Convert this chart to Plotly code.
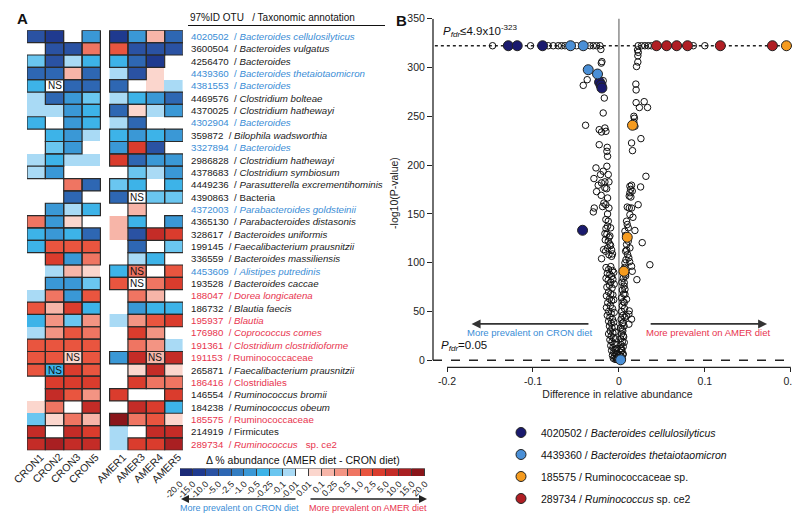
import numpy as np
import plotly.graph_objects as go

FONT = "Liberation Sans, Arial, sans-serif"

# ---------------- Panel A data ----------------
cron_samples = ["CRON1", "CRON2", "CRON3", "CRON5"]
amer_samples = ["AMER1", "AMER3", "AMER4", "AMER5"]

otu_ids = ["4020502", "3600504", "4256470", "4439360", "4381553", "4469576", "4370025",
           "4302904", "359872", "3327894", "2986828", "4378683", "4449236", "4390863",
           "4372003", "4365130", "328617", "199145", "336559", "4453609", "193528",
           "188047", "186732", "195937", "176980", "191361", "191153", "265871",
           "186416", "146554", "184238", "185575", "214919", "289734"]

taxa = ["<i>Bacteroides cellulosilyticus</i>", "<i>Bacteroides vulgatus</i>", "<i>Bacteroides</i>",
        "<i>Bacteroides thetaiotaomicron</i>", "<i>Bacteroides</i>", "<i>Clostridium bolteae</i>",
        "<i>Clostridium hathewayi</i>", "<i>Bacteroides</i>", "<i>Bilophila wadsworthia</i>",
        "<i>Bacteroides</i>", "<i>Clostridium hathewayi</i>", "<i>Clostridium symbiosum</i>",
        "<i>Parasutterella excrementihominis</i>", "Bacteria", "<i>Parabacteroides goldsteinii</i>",
        "<i>Parabacteroides distasonis</i>", "<i>Bacteroides uniformis</i>",
        "<i>Faecalibacterium prausnitzii</i>", "<i>Bacteroides massiliensis</i>",
        "<i>Alistipes putredinis</i>", "<i>Bacteroides caccae</i>", "<i>Dorea longicatena</i>",
        "<i>Blautia faecis</i>", "<i>Blautia</i>", "<i>Coprococcus comes</i>",
        "<i>Clostridium clostridioforme</i>", "Ruminococcaceae", "<i>Faecalibacterium prausnitzii</i>",
        "Clostridiales", "<i>Ruminococcus bromii</i>", "<i>Ruminococcus obeum</i>",
        "Ruminococcaceae", "Firmicutes", "<i>Ruminococcus</i>   sp. ce2"]

# label group: b = blue, k = black, r = red
label_group = "bkkbbkkbkbkkkkbkkkkbkrkrrrrkrkkrkr"

# Delta % abundance (AMER diet - CRON diet), per OTU row
cron_delta = [
    [-7, -12, 0, -0.7], [0, -7, -7, 0.7], [-0.15, -7, -0.05, -0.35], [-3.5, -3.5, 0.15, -3.5],
    [-0.35, 0, -3.5, -3.5], [-0.05, -3.5, -0.7, -0.15], [-0.05, -0.05, -0.7, -0.35],
    [-0.35, 0, -0.7, -0.35], [0, -0.35, -0.7, -0.05], [0, -0.15, -0.7, 0],
    [-0.05, -0.35, -0.05, -0.05], [-0.05, -0.7, 0, 0], [0, 0, 0.7, -3.5], [0, 0, -3.5, 0],
    [0, -0.7, -0.05, -0.35], [0.7, -0.7, 0.05, 0], [-0.35, -0.7, -0.35, -3.5],
    [-0.35, 1.5, 1.5, 1.5], [0, 3.5, -0.7, 0.7], [0, -0.05, 0.15, 0.05], [0, -0.7, -0.7, -0.15],
    [-0.05, 0.7, -0.7, 1.5], [1.5, 0.15, 3.5, -0.35], [-0.35, 0.35, -0.15, 0.35],
    [-0.05, 0.35, 1.5, 0.7], [1.5, 1.5, 1.5, 1.5], [1.5, 1.5, 0.05, 1.5], [1.5, -0.35, 3.5, 1.5],
    [0, 3.5, 3.5, 3.5], [0, 7, 1.5, 0.35], [0.05, 0.7, 0, 7], [-0.15, 0.05, 0.7, 0.15],
    [7, 0, 7, 3.5], [7, 12, 7, 7]]

amer_delta = [
    [-12, -0.7, 0.15, -3.5], [1.5, -7, -7, -7], [-0.35, -3.5, -12, 0], [-0.05, -7, 0.05, 0],
    [-3.5, 0, 0.05, -0.05], [-0.05, -0.35, -0.7, -3.5], [-3.5, 0.05, -0.05, -0.7],
    [-0.05, -3.5, 0, 0], [-0.35, -0.7, -0.35, -0.7], [-0.7, 3.5, -7, 0],
    [3.5, -3.5, -0.7, -0.7], [0, -0.15, -0.05, -0.7], [-0.15, -0.35, 0, -0.35],
    [-3.5, 0, -0.15, -0.15], [0, 0.15, 0, 0], [0.15, -0.35, 0, -0.7], [0.15, -7, 7, 3.5],
    [0, -3.5, 0, -0.15], [0, -0.05, -0.35, 0], [-0.35, 0.7, 0, 1.5], [1.5, 0, 0.7, 3.5],
    [0, 0.7, 0.15, 0], [0, -0.7, -0.35, -0.35], [-0.05, 0.35, 1.5, 3.5], [0, 3.5, 0.35, 0],
    [0, 0.7, 0.35, -0.05], [-0.7, 7, 0.15, 7], [0, 0.05, 7, 0.05], [0, 3.5, 0.7, 0.7],
    [3.5, 0, 0, 3.5], [0, 7, 3.5, -0.35], [17, 0.7, 1.5, 0.05], [-0.05, 0, 7, 7],
    [-0.05, 3.5, 3.5, 12]]

# significance per cell: 1 = significant, 0 = not, N = tested but NS  (CRON | AMER)
significance = [
    "1101 1111", "0111 1111", "1111 1110", "1111 0100", "1N11 1000", "0111 0111",
    "0011 1101", "1011 0100", "0110 1111", "0110 1110", "0100 1111", "1100 0101",
    "0011 1101", "0010 1N11", "0111 0100", "1110 0101", "1111 0111", "1111 0101",
    "0111 0110", "0010 1N11", "0111 1N11", "0111 0110", "1111 0111", "0111 0111",
    "0111 0110", "1111 0110", "11N1 11N1", "1N11 0110", "0111 0111", "0111 1001",
    "0101 0111", "0111 1110", "1011 0011", "1111 0111"]

bin_edges = [-20, -15, -10, -5, -2.5, -1, -0.5, -0.25, -0.1, -0.01,
             0.01, 0.1, 0.25, 0.5, 1, 2.5, 5, 10, 15, 20]
bin_labels = ["-20.0", "-15.0", "-10.0", "-5.0", "-2.5", "-1.0", "-0.5", "-0.25", "-0.1", "-0.01",
              "0.01", "0.1", "0.25", "0.5", "1.0", "2.5", "5.0", "10.0", "15.0", "20.0"]
bin_colors = ["#1b2a78", "#1f3a8f", "#2a52a3", "#2e67b3", "#327dc2", "#3a98d6", "#3db3e8",
              "#6ac6f0", "#a9daf5", "#ffffff", "#fbd6cd", "#f7b5a8", "#f39483", "#ef7562",
              "#e9553f", "#da3c2d", "#c42c27", "#a91f22", "#8a151a"]

# ---------------- Panel B data ----------------
open_x = [
    # top line
    -0.147, -0.1028, -0.0822, -0.0764, -0.0706, -0.0667, -0.0628, -0.0493, -0.0337, -0.0299,
    -0.026, -0.0221, 0.0224, 0.0263, 0.0302, 0.0341, 0.0379, 0.0866, 0.1,
    # upper left
    -0.021, -0.0198, -0.0205, -0.0369, -0.0415, -0.0183, -0.017, -0.0183,
    # upper right
    0.0217, 0.0225, 0.022, 0.022, 0.0205, 0.0197, 0.02, 0.02, 0.0238, 0.0294, 0.0333, 0.0174, 0.018,
    # mid left
    -0.0388, -0.0229, -0.0202, -0.0163, -0.0151, -0.0229, -0.0136, -0.014, -0.0132, -0.014,
    -0.0267, -0.0124, -0.0291, -0.0214, -0.0183, -0.0202, -0.0241, -0.0163, -0.0116, -0.0163,
    -0.0143, -0.026, -0.0132, -0.0206, -0.0175, -0.0152, -0.0287, -0.0298, -0.019, -0.0116,
    -0.0132, -0.0152, -0.0124, -0.0132, -0.0151, -0.0097, -0.0163, -0.014, -0.0105, -0.0159,
    -0.0124, -0.0097, -0.0178, -0.0155, -0.0132, -0.0202, -0.0116, -0.0085,
    -0.0105, -0.0085, -0.0075, -0.0115,
    # mid right
    0.0174, 0.0186, 0.0147, 0.0256, 0.0158, 0.0314, 0.0252, 0.0128, 0.0147, 0.0136, 0.0155,
    0.0128, 0.012, 0.0139, 0.0224, 0.0097, 0.012, 0.0147, 0.0128, 0.0163, 0.0089, 0.0097,
    0.0109, 0.007, 0.0186, 0.0109, 0.0089, 0.0128, 0.0078, 0.0101, 0.0271, 0.036, 0.0147,
    0.0155, 0.0209, 0.007, 0.0078, 0.0062, 0.007, 0.007, 0.0089, 0.0062, 0.012, 0.0116,
    0.0089, 0.0147, 0.0116, 0.005, 0.0039, 0.005, 0.0062, 0.0031, 0.005,
    0.0078, 0.0105, 0.009, 0.0115, 0.0082, 0.0125,
    # dense column left of zero
    -0.015, -0.012, -0.0095, -0.0075, -0.0135, -0.0105, -0.0085, -0.006,
    -0.015, -0.0125, -0.0095, -0.007, -0.011, -0.014, -0.008, -0.0055,
    -0.012, -0.0095, -0.0145, -0.007, -0.011, -0.0085, -0.013, -0.006,
    -0.01, -0.0145, -0.0075, -0.012, -0.009, -0.0055, -0.0135, -0.0105,
    -0.0075, -0.012, -0.009, -0.006, -0.011, -0.008, -0.005, -0.01,
    -0.007, -0.012, -0.0045, -0.009, -0.0065, -0.0105, -0.004, -0.008,
    -0.0055, -0.0095, -0.0035, -0.007, -0.0045, -0.0085, -0.0025, -0.006,
    -0.0035, -0.0075, -0.002, -0.005, -0.003, -0.0065, -0.0015, -0.0045,
    -0.0025, -0.001,
    # dense column right of zero
    0.0065, 0.0045, 0.0075, 0.005, 0.0035, 0.006, 0.004, 0.0055,
    0.003, 0.005, 0.004, 0.0065, 0.003, 0.0045, 0.007, 0.0025,
    0.004, 0.006, 0.002, 0.0045, 0.003, 0.0055, 0.002, 0.004,
    0.0025, 0.005, 0.0015, 0.0035, 0.002, 0.0045, 0.001, 0.003,
    0.0015, 0.004, 0.0025]

open_y = [
    322.3, 322.3, 322.3, 322.3, 322.3, 322.3, 322.3, 322.3, 322.3, 322.3,
    322.3, 322.3, 322.3, 322.3, 322.3, 322.3, 322.3, 322.3, 322.3,
    318.5, 306, 304.5, 287.5, 281.7, 286.5, 268.7, 253.4,
    318, 315.5, 312, 305.6, 301, 283, 277, 264, 259, 265, 259, 250, 248,
    240.8, 236.3, 233.9, 238, 234.6, 220.9, 218.2, 214.1, 209, 198.8,
    197.1, 190.3, 186.2, 190.3, 193.7, 181.8, 179.4, 182.8, 182.8, 176.5,
    175.8, 172.8, 166.3, 169, 161.1, 159.4, 156, 152, 157.5, 156,
    149.9, 144.2, 142.5, 137.4, 135, 135.7, 129.8, 129.2, 127.4, 123.3,
    122, 117.5, 113.4, 111.7, 115.1, 104.1, 108.2, 106.5,
    119, 113, 109, 126,
    243.9, 239.8, 222.7, 227.1, 214.8, 188.5, 177.6, 178.3, 179.4, 175.1, 173.4,
    171.7, 168.3, 167.3, 159.4, 157, 156, 156, 149.2, 146.5, 142.5, 139.1,
    135.7, 132.3, 133, 122, 118.6, 115.1, 111.7, 108.3, 120.5, 97.9, 96.3,
    91.2, 82.6, 99.8, 86.3, 79.5, 72.7, 67.6, 62.5, 59.1, 50.6, 47.2,
    45.5, 42.1, 37, 38.7, 31.9, 25.1, 18.3, 11.5, 6.4,
    128, 125, 113, 105, 103, 101,
    95, 93, 96, 92, 89, 88, 86, 90,
    84, 82, 80, 83, 77, 75, 74, 78,
    70, 68, 66, 67, 63, 61, 59, 62,
    56, 54, 53, 50, 48, 49, 46, 44,
    42, 40, 38, 39, 35, 33, 34, 30,
    28, 27, 29, 25, 23, 21, 22, 19,
    17, 15, 16, 13, 11, 10, 12, 8,
    7, 5, 6, 4, 2.5, 2, 3, 1,
    0.8, 1.5,
    95, 90, 88, 84, 80, 76, 72, 68,
    64, 60, 56, 53, 50, 46, 44, 42,
    38, 35, 33, 30, 27, 24, 22, 19,
    16, 14, 12, 10, 8, 6, 5, 3.5,
    2, 1.5, 0.7]

highlight_names = ["4020502 / <i>Bacteroides cellulosilyticus</i>",
                   "4439360 / <i>Bacteroides thetaiotaomicron</i>",
                   "185575 / Ruminococcaceae sp.",
                   "289734 / <i>Ruminococcus</i> sp. ce2"]
highlight_colors = ["#1a1a6e", "#4a8fd6", "#f59b1f", "#b01e24"]
highlight_x = [
    [-0.1287, -0.1183, -0.0888, -0.0225, -0.0208, -0.0198, -0.0423],
    [-0.0563, -0.0415, -0.0357, -0.0249, 0.002],
    [0.1949, 0.0158, 0.0097, 0.0058],
    [0.0437, 0.0555, 0.0672, 0.0798, 0.118, 0.1786]]
highlight_y = [
    [322.3, 322.3, 322.3, 285, 282, 279, 133.2],
    [322.3, 322.3, 297.7, 293.3, 0.5],
    [322.3, 240.8, 126, 91.2],
    [322.3, 322.3, 322.3, 322.3, 322.3, 322.3]]

label_colors = {"b": "#3a8dd6", "k": "#1a1a1a", "r": "#e8344e"}

# ---------------- helpers ----------------
W, H = 800, 513
def px(x):
    return x / W
def py(y):
    return 1 - y / H

def note(x, y, text, size, color="#111", xanchor="center", **kw):
    d = dict(x=x, y=y, text=text, showarrow=False, xanchor=xanchor, yanchor="middle",
             font=dict(size=size, color=color, family=FONT))
    d.setdefault("xref", "paper")
    d.setdefault("yref", "paper")
    d.update(kw)
    return d

n_rows = len(otu_ids)
bins = np.array(bin_edges[1:-1])
cron_idx = np.digitize(np.array(cron_delta, dtype=float), bins)
amer_idx = np.digitize(np.array(amer_delta, dtype=float), bins)

nb = len(bin_colors)
colorscale = []
for k, c in enumerate(bin_colors):
    colorscale.append([k / nb, c])
    colorscale.append([(k + 1) / nb, c])

cron_pos = [0, 1, 2, 3]
amer_pos = [4.5, 5.5, 6.5, 7.5]

fig = go.Figure()

fig.add_trace(go.Heatmap(z=cron_idx, x=cron_pos, y=list(range(n_rows)), colorscale=colorscale,
                         zmin=-0.5, zmax=nb - 0.5, showscale=False, hoverinfo="skip",
                         xaxis="x", yaxis="y"))
fig.add_trace(go.Heatmap(z=amer_idx, x=amer_pos, y=list(range(n_rows)), colorscale=colorscale,
                         zmin=-0.5, zmax=nb - 0.5, showscale=False, hoverinfo="skip",
                         xaxis="x", yaxis="y"))

# color key heatmap
fig.add_trace(go.Heatmap(z=[list(range(nb))], x=list(range(nb)), y=[0], colorscale=colorscale,
                         zmin=-0.5, zmax=nb - 0.5, showscale=False, hoverinfo="skip", xgap=1,
                         xaxis="x3", yaxis="y3"))

# volcano
fig.add_trace(go.Scatter(x=open_x, y=open_y, mode="markers", xaxis="x2", yaxis="y2",
                         marker=dict(symbol="circle-open", size=6.5, color="#111111",
                                     line=dict(width=1, color="#111111")),
                         showlegend=False, hoverinfo="skip"))
for i in range(len(highlight_names)):
    fig.add_trace(go.Scatter(x=highlight_x[i], y=highlight_y[i], mode="markers",
                             xaxis="x2", yaxis="y2", name=highlight_names[i],
                             legendgroup="g%d" % i,
                             marker=dict(size=10, color=highlight_colors[i],
                                         line=dict(width=1, color="#222222"))))

shapes = []
annotations = []

# cell borders & NS marks
positions = cron_pos + amer_pos
for r in range(n_rows):
    s = significance[r].replace(" ", "")
    for c in range(8):
        if s[c] in "1N":
            shapes.append(dict(type="rect", xref="x", yref="y",
                               x0=positions[c] - 0.5, x1=positions[c] + 0.5,
                               y0=r - 0.5, y1=r + 0.5,
                               line=dict(color="#2a2a2a", width=1.2)))
        if s[c] == "N":
            annotations.append(note(positions[c], r, "NS", 10, xref="x", yref="y"))

# column labels (rotated)
for c, name in enumerate(cron_samples + amer_samples):
    annotations.append(note(positions[c], py(460), name, 10.5, color="#222",
                            xref="x", textangle=-45, xshift=-7.5))

# row labels
for r in range(n_rows):
    annotations.append(note(px(181), r, "%s  / %s" % (otu_ids[r], taxa[r]), 9.7,
                            color=label_colors[label_group[r]], xanchor="left", yref="y"))

annotations.append(note(px(180), py(9), "97%ID OTU   / Taxonomic annotation", 10, xanchor="left"))
shapes.append(dict(type="line", xref="paper", yref="paper", x0=px(180), x1=px(377),
                   y0=py(17.5), y1=py(17.5), line=dict(color="#111", width=1)))

annotations.append(note(px(7), py(11), "<b>A</b>", 15, xanchor="left"))
annotations.append(note(px(386), py(12), "<b>B</b>", 15, xanchor="left"))

# color key extras
shapes.append(dict(type="rect", xref="x3", yref="y3", x0=-0.5, x1=nb - 0.5, y0=-0.5, y1=0.5,
                   fillcolor="#3a3a3a", line=dict(color="#3a3a3a", width=1), layer="below"))
annotations.append(note(px(295), py(452), "Δ % abundance (AMER diet - CRON diet)", 10.5))
annotations.append(dict(x=px(173), y=py(491), xref="paper", yref="paper", ax=116, ay=0,
                        text="", showarrow=True, arrowhead=2, arrowsize=1, arrowwidth=1.6,
                        arrowcolor="#222"))
annotations.append(dict(x=px(419), y=py(491), xref="paper", yref="paper", ax=-118, ay=0,
                        text="", showarrow=True, arrowhead=2, arrowsize=1, arrowwidth=1.6,
                        arrowcolor="#222"))
annotations.append(note(px(231), py(500), "More prevalent on CRON diet", 9, color="#3a8dd6"))
annotations.append(note(px(360), py(500), "More prevalent on AMER diet", 9, color="#e8344e"))

# volcano extras
shapes += [
    dict(type="line", xref="x2 domain", yref="y2", x0=0, x1=0, y0=0, y1=350,
         line=dict(color="#222", width=1.3)),
    dict(type="line", xref="x2", yref="y2 domain", x0=-0.2, x1=0.2, y0=0, y1=0,
         line=dict(color="#222", width=1.3)),
    dict(type="line", xref="x2", yref="y2", x0=0, x1=0, y0=0, y1=352,
         line=dict(color="#8c8c8c", width=1.5), layer="below"),
    dict(type="line", xref="x2 domain", yref="y2", x0=0.005, x1=1, y0=322.3, y1=322.3,
         line=dict(color="#222", width=1.3, dash="dot"), layer="below"),
    dict(type="line", xref="x2 domain", yref="y2", x0=0, x1=0.957, y0=0, y1=0,
         line=dict(color="#222", width=1.3, dash="dash"), layer="below"),
]
annotations += [
    dict(x=-0.1714, y=37.2, xref="x2", yref="y2", ax=-0.0337, ay=37.2, axref="x2", ayref="y2",
         text="", showarrow=True, arrowhead=2, arrowsize=1, arrowwidth=1.8, arrowcolor="#333"),
    dict(x=0.1724, y=37.2, xref="x2", yref="y2", ax=0.0352, ay=37.2, axref="x2", ayref="y2",
         text="", showarrow=True, arrowhead=2, arrowsize=1, arrowwidth=1.8, arrowcolor="#333"),
    note(-0.1035, 28.7, "More prevalent on CRON diet", 9.5, color="#3a8dd6", xref="x2", yref="y2"),
    note(0.1038, 28.7, "More prevalent on AMER diet", 9.5, color="#e8344e", xref="x2", yref="y2"),
    note(px(433), py(23), "<i>P</i><sub><i>fdr</i></sub>≤4.9x10<sup>-323</sup>", 11.5, xanchor="left"),
    note(px(431), py(338), "<i>P</i><sub><i>fdr</i></sub>=0.05", 11.5, xanchor="left"),
]

fig.update_layout(
    width=W, height=H, margin=dict(l=0, r=0, t=0, b=0, pad=0, autoexpand=False),
    paper_bgcolor="white", plot_bgcolor="rgba(0,0,0,0)",
    font=dict(family=FONT, size=10.5, color="#111"),
    shapes=shapes, annotations=annotations,
    xaxis=dict(domain=[px(19), px(175)], range=[-0.5, 8.0], anchor="y", automargin=False,
               showticklabels=False, ticks="", showgrid=False, zeroline=False, showline=False,
               fixedrange=True),
    yaxis=dict(domain=[py(442.3), py(22.3)], range=[n_rows - 0.5, -0.5], anchor="x",
               automargin=False,
               showticklabels=False, ticks="", showgrid=False, zeroline=False, showline=False),
    xaxis2=dict(domain=[px(425), px(794)], range=[-0.2163, 0.213], anchor="y2", automargin=False,
                tickvals=[-0.2, -0.1, 0, 0.1, 0.2], ticktext=["-0.2", "-0.1", "0", "0.1", "0.2"],
                ticks="outside", ticklen=4, tickwidth=1.3, tickcolor="#222",
                showgrid=False, zeroline=False, showline=False, ticklabeloverflow="allow",
                tickfont=dict(size=10.5, color="#222"),
                title=dict(text="Difference in relative abundance", font=dict(size=10.5, color="#222"),
                           standoff=4)),
    yaxis2=dict(domain=[py(359.3), py(10.7)], range=[-7.2, 350], anchor="x2", automargin=False,
                tickvals=[0, 50, 100, 150, 200, 250, 300, 350],
                ticks="outside", ticklen=5, tickwidth=1.3, tickcolor="#222",
                showgrid=False, zeroline=False, showline=False, ticklabeloverflow="allow",
                tickfont=dict(size=10.5, color="#222"),
                title=dict(text="-log10(P-value)", font=dict(size=10.5, color="#222"), standoff=6)),
    xaxis3=dict(domain=[px(172), px(417)], range=[-0.5, nb - 0.5], anchor="y3", automargin=False,
                tickvals=[k - 0.5 for k in range(nb + 1)], ticktext=bin_labels,
                tickangle=-45, ticks="", showgrid=False, zeroline=False, showline=False,
                ticklabeloverflow="allow",
                tickfont=dict(size=9, color="#222")),
    yaxis3=dict(domain=[py(468), py(460.5)], range=[-0.5, 0.5], anchor="x3", automargin=False,
                showticklabels=False, ticks="", showgrid=False, zeroline=False, showline=False),
    legend=dict(x=px(493), y=py(410), xanchor="left", yanchor="top", bgcolor="rgba(0,0,0,0)",
                font=dict(size=10.5, color="#111", family=FONT), tracegroupgap=3,
                itemsizing="trace"),
    showlegend=True,
)

fig.write_html("out.html")
